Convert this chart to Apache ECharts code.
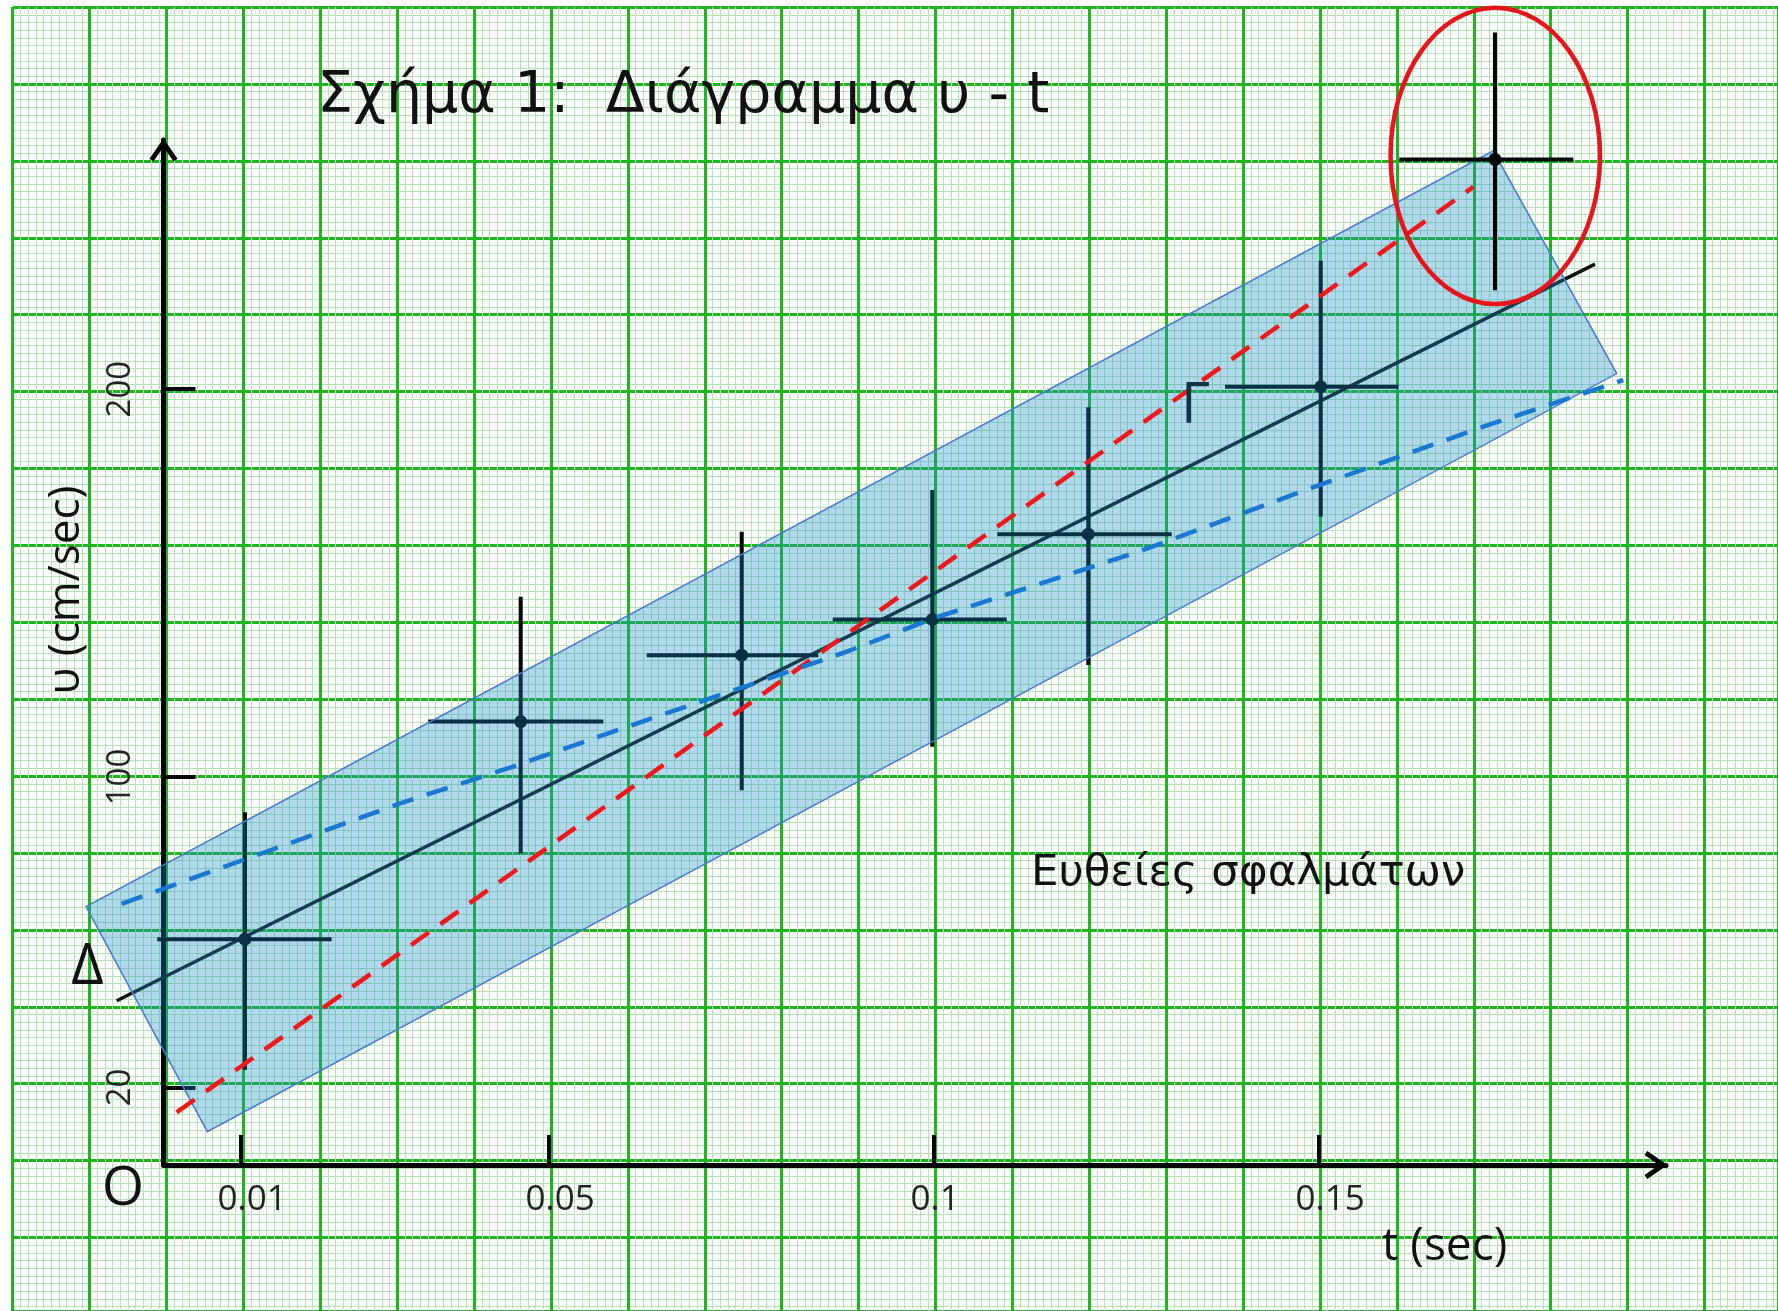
<!DOCTYPE html>
<html><head><meta charset="utf-8">
<script src="https://cdn.jsdelivr.net/npm/echarts@6/dist/echarts.min.js"></script>
<style>html,body{margin:0;padding:0;background:#fff}#c{width:1778px;height:1311px}</style>
</head><body><div id="c"></div>
<script>
// ---- measured data (t in sec, v in cm/sec) ----
const pointT = [0.01058, 0.04639, 0.07509, 0.09984, 0.12010, 0.15029, 0.17292];
const pointV = [58.2, 114.3, 131.4, 140.6, 162.6, 200.6, 259.2];
const tLow   = [-0.00081, 0.03439, 0.06275, 0.08691, 0.10829, 0.13786, 0.16049];
const tHigh  = [0.02184, 0.05712, 0.08504, 0.10951, 0.13094, 0.16036, 0.18309];
const vLow   = [24.5, 80.3, 96.6, 107.8, 128.9, 167.1, 225.5];
const vHigh  = [90.9, 146.5, 163.2, 174.0, 195.3, 233.1, 291.9];
// best-fit line
const fitT = [-0.00608, 0.18591];
const fitV = [42.35, 232.2];
// error lines (red = max slope, blue = min slope)
const redT = [0.00171, 0.17010];
const redV = [13.58, 252.1];
const blueT = [-0.00543, 0.03071, 0.04543, 0.06275, 0.08873, 0.09997, 0.12682, 0.14890, 0.17140, 0.18958];
const blueV = [67.3, 93.2, 102.7, 114.7, 132.3, 140.9, 158.2, 174.4, 190.3, 202.3];
// shaded error band corners
const bandT = [-0.01006, 0.00569, 0.18873, 0.17270];
const bandV = [66.6, 8.6, 204.0, 261.4];
// outlier ring (centre and radii in data units)
const ringCenter = [0.17296, 260.1];
const ringRadius = [0.0136, 38.2];
// axis ticks
const xTickValues = [0.01, 0.05, 0.1, 0.15];
const xTickLabels = ['0.01', '0.05', '0.1', '0.15'];
const yTickValues = [20, 100, 200];
const yTickLabels = ['20', '100', '200'];

const FONT = '"Open Sans", "DejaVu Sans", sans-serif';
const FONT2 = '"DejaVu Sans", "Open Sans", sans-serif';
const chevron = 'path://M50,0 L100,72 L86,82 L50,30 L14,82 L0,72 Z';

const crossData = pointT.map((t, i) => [t, pointV[i], tLow[i], tHigh[i], vLow[i], vHigh[i]]);

function crossItem(params, api, withRing) {
  const c = api.coord([api.value(0), api.value(1)]);
  const l = api.coord([api.value(2), api.value(1)]);
  const r = api.coord([api.value(3), api.value(1)]);
  const b = api.coord([api.value(0), api.value(4)]);
  const t = api.coord([api.value(0), api.value(5)]);
  const col = '#000';
  const children = [
    {type: 'line', shape: {x1: l[0], y1: l[1], x2: r[0], y2: r[1]}, style: {stroke: col, lineWidth: 4}},
    {type: 'line', shape: {x1: b[0], y1: b[1], x2: t[0], y2: t[1]}, style: {stroke: col, lineWidth: 4}},
    {type: 'circle', shape: {cx: c[0], cy: c[1], r: 6.5}, style: {fill: col}}
  ];
  if (withRing) {
    const rc = api.coord(ringCenter);
    const rs = api.size(ringRadius);
    children.push({type: 'ellipse', shape: {cx: rc[0], cy: rc[1], rx: rs[0], ry: rs[1]},
      style: {fill: 'none', stroke: '#e8141c', lineWidth: 4.5}});
  }
  return {type: 'group', children};
}

// polyline drawn through the axes' scales (not clipped at the axis)
function polySeries(ts, vs, z, style) {
  return {type: 'custom', xAxisIndex: 1, yAxisIndex: 1, z, clip: false,
    data: ts.map((t, i) => [t, vs[i]]),
    renderItem: (p, api) => {
      if (p.dataIndex !== 0) return null;
      const pts = ts.map((t, i) => api.coord([t, vs[i]]));
      return {type: 'polyline', shape: {points: pts}, style: Object.assign({fill: 'none'}, style)};
    }};
}

const chart = echarts.init(document.getElementById('c'));
function txt(x, y, text, size, opts) {
  opts = opts || {};
  const a = opts.align || 'center';
  return {
    type: 'text', x, y, z: 20, rotation: opts.rotation || 0,
    style: {text, fontSize: size, fontFamily: opts.font || FONT, fill: opts.fill || '#111',
      align: a, verticalAlign: 'middle', textAlign: a, textVerticalAlign: 'middle'}
  };
}

chart.setOption({
  animation: false,
  backgroundColor: '#fff',
  grid: [
    {left: 12.7, top: 7.1, right: 0, bottom: 0},
    {left: 163.5, top: 140, right: 112, bottom: 146}
  ],
  xAxis: [
    {gridIndex: 0, type: 'value', min: 0, max: 22.956, interval: 1, z: 0,
      axisLine: {show: false}, axisTick: {show: false}, axisLabel: {show: false},
      splitLine: {show: true, lineStyle: {color: '#1fb51f', width: 3}},
      minorTick: {show: false, splitNumber: 10},
      minorSplitLine: {show: true, lineStyle: {color: '#b4e3b4', width: 1}}},
    {gridIndex: 1, type: 'value', min: 0, max: 0.19513, z: 1,
      axisLine: {show: true, onZero: false, lineStyle: {color: '#000', width: 5},
        symbol: ['none', chevron], symbolSize: [28, 24], symbolOffset: [0, -10]},
      axisTick: {show: true, inside: true, length: 30, customValues: xTickValues,
        lineStyle: {color: '#000', width: 4}},
      axisLabel: {show: true, customValues: xTickValues,
        formatter: (v, i) => xTickLabels[xTickValues.indexOf(v)] ?? xTickLabels[i],
        fontSize: 35, fontFamily: FONT, color: '#222', margin: 18,
        align: 'left', padding: [0, 0, 0, -23]},
      splitLine: {show: false}}
  ],
  yAxis: [
    {gridIndex: 0, type: 'value', min: 0, max: 16.956, interval: 1, inverse: true, z: 0,
      axisLine: {show: false}, axisTick: {show: false}, axisLabel: {show: false},
      splitLine: {show: true, lineStyle: {color: '#1fb51f', width: 3}},
      minorTick: {show: false, splitNumber: 10},
      minorSplitLine: {show: true, lineStyle: {color: '#b4e3b4', width: 1}}},
    {gridIndex: 1, type: 'value', min: 0, max: 264.2, z: 1,
      axisLine: {show: true, onZero: false, lineStyle: {color: '#000', width: 5},
        symbol: ['none', chevron], symbolSize: [28, 24], symbolOffset: [0, -10]},
      axisTick: {show: true, inside: true, length: 32, customValues: yTickValues,
        lineStyle: {color: '#000', width: 4}},
      axisLabel: {show: true, customValues: yTickValues,
        formatter: (v, i) => yTickLabels[yTickValues.indexOf(v)] ?? yTickLabels[i],
        rotate: 90, fontSize: 33, fontFamily: FONT, color: '#222', margin: 26},
      splitLine: {show: false}}
  ],
  series: [
    polySeries(fitT, fitV, 2, {stroke: '#111', lineWidth: 3.5}),
    {type: 'custom', xAxisIndex: 1, yAxisIndex: 1, z: 3, clip: false,
      encode: {x: [0, 2, 3], y: [1, 4, 5]},
      data: crossData.slice(0, crossData.length - 1),
      renderItem: (p, api) => crossItem(p, api, false)},
    {type: 'custom', xAxisIndex: 1, yAxisIndex: 1, z: 4, clip: false,
      data: bandT.map((t, i) => [t, bandV[i]]),
      renderItem: (p, api) => {
        if (p.dataIndex !== 0) return null;
        const pts = bandT.map((t, i) => api.coord([t, bandV[i]]));
        return {type: 'polygon', shape: {points: pts},
          style: {fill: 'rgba(25,140,200,0.34)', stroke: '#4a78d2', lineWidth: 1.5}};
      }},
    polySeries(redT, redV, 5, {stroke: '#f0181c', lineWidth: 4.5, lineDash: [22, 14]}),
    polySeries(blueT, blueV, 5, {stroke: '#1a78d2', lineWidth: 4.5, lineDash: [22, 14]}),
    {type: 'custom', xAxisIndex: 1, yAxisIndex: 1, z: 6, clip: false,
      encode: {x: [0, 2, 3], y: [1, 4, 5]},
      data: crossData.slice(crossData.length - 1),
      renderItem: (p, api) => crossItem(p, api, true)}
  ],
  graphic: [
    txt(317, 97, 'Σχήμα 1:  Διάγραμμα υ - t', 57, {align: 'left', font: FONT2}),
    txt(1031, 874, 'Ευθείες σφαλμάτων', 43.5, {align: 'left', font: FONT2}),
    txt(1382, 1247, 't (sec)', 46, {align: 'left'}),
    txt(66, 590, 'υ (cm/sec)', 44, {rotation: Math.PI / 2}),
    txt(123, 1190, 'O', 54),
    txt(87.5, 968, 'Δ', 56),
    txt(1181, 407, 'Γ', 56, {align: 'left', fill: '#0e3446'})
  ]
});
</script></body></html>
